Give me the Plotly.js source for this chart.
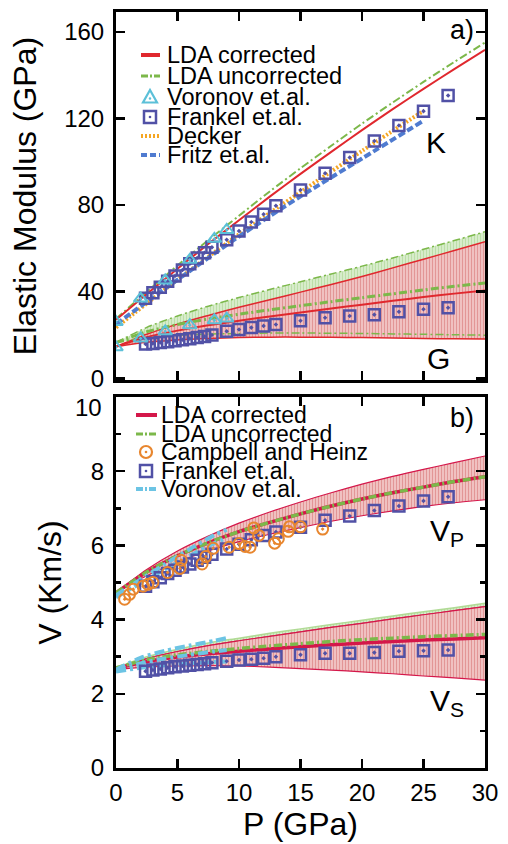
<!DOCTYPE html>
<html><head><meta charset="utf-8">
<script src="https://cdn.plot.ly/plotly-3.0.1.min.js"></script>
<style>html,body{margin:0;padding:0;background:#fff;}#chart{width:508px;height:844px;}</style>
</head><body><div id="chart"></div>
<script>
// ---------- DATA ----------
const P_LDA = [0, 2.5, 5, 7.5, 10, 12.5, 15, 17.5, 20, 22.5, 25, 27.5, 30];
// panel a) bulk modulus K
const K_corr = [27, 38.9, 50.6, 62.0, 73.0, 83.9, 94.4, 104.6, 114.6, 124.3, 133.7, 142.8, 151.7];
const K_unc  = [27.5, 39.9, 52.1, 63.8, 75.1, 86.3, 97.0, 107.4, 117.6, 127.4, 136.9, 146.1, 155.1];
// panel a) shear modulus G (mean, upper, lower)
const G_corr_mid = [14.6, 19.0, 22.0, 24.5, 26.6, 28.5, 30.4, 32.2, 34.0, 35.8, 37.5, 39.1, 40.6];
const G_corr_up  = [14.6, 20.3, 25.0, 29.0, 32.8, 36.3, 39.8, 43.3, 47.0, 51.0, 55.0, 59.0, 63.1];
const G_corr_lo  = [14.6, 16.6, 17.7, 18.4, 18.8, 19.0, 19.0, 18.9, 18.8, 18.6, 18.4, 18.2, 18.1];
const G_unc_mid  = [16.5, 21.5, 24.8, 27.4, 29.6, 31.6, 33.5, 35.4, 37.2, 39.0, 40.8, 42.5, 44.0];
const G_unc_up   = [16.5, 23.5, 28.8, 33.3, 37.3, 41.0, 44.6, 48.2, 51.8, 55.6, 59.6, 63.6, 67.7];
const G_unc_lo   = [16.5, 18.7, 19.8, 20.4, 20.7, 20.9, 20.9, 20.8, 20.7, 20.5, 20.3, 20.1, 19.9];
// panel b) velocities
const Vp_corr_mid = [4.72, 5.28, 5.72, 6.07, 6.37, 6.62, 6.85, 7.06, 7.25, 7.42, 7.57, 7.72, 7.85];
const Vp_corr_up  = [4.72, 5.35, 5.85, 6.25, 6.60, 6.90, 7.17, 7.42, 7.65, 7.86, 8.05, 8.23, 8.41];
const Vp_corr_lo  = [4.72, 5.18, 5.55, 5.85, 6.10, 6.30, 6.48, 6.65, 6.80, 6.93, 7.05, 7.15, 7.23];
const Vp_unc_mid  = [4.72, 5.28, 5.72, 6.07, 6.37, 6.62, 6.85, 7.06, 7.25, 7.42, 7.57, 7.72, 7.85];
const Vs_corr_mid = [2.68, 2.87, 2.99, 3.08, 3.15, 3.21, 3.27, 3.32, 3.37, 3.41, 3.45, 3.48, 3.51];
const Vs_corr_up  = [2.68, 2.95, 3.14, 3.30, 3.43, 3.55, 3.67, 3.79, 3.90, 4.02, 4.13, 4.24, 4.35];
const Vs_corr_lo  = [2.66, 2.72, 2.75, 2.76, 2.75, 2.72, 2.68, 2.64, 2.59, 2.54, 2.48, 2.43, 2.37];
const Vs_unc_mid  = [2.70, 2.92, 3.05, 3.14, 3.22, 3.29, 3.35, 3.41, 3.46, 3.50, 3.54, 3.57, 3.60];
const Vs_unc_up   = [2.70, 3.00, 3.20, 3.37, 3.50, 3.63, 3.75, 3.87, 3.98, 4.10, 4.21, 4.32, 4.44];
// Voronov et al.
const Vor_P  = [0, 2, 4, 6, 8, 9];
const Vor_K  = [26.0, 36.8, 45.2, 54.7, 64.4, 68.5];
const Vor_G  = [14.3, 18.4, 21.7, 24.5, 26.8, 27.6];
const Vor_Vp1 = [4.65, 5.08, 5.50, 5.90, 6.28, 6.42];
const Vor_Vp2 = [4.60, 4.98, 5.36, 5.72, 6.06, 6.20];
const Vor_Vs1 = [2.65, 2.97, 3.16, 3.30, 3.43, 3.50];
const Vor_Vs2 = [2.62, 2.82, 2.95, 3.05, 3.14, 3.18];
const Vor_Vs3 = [2.60, 2.70, 2.77, 2.82, 2.86, 2.87];
// Frankel et al.
const Fr_P  = [2.4, 3.0, 3.6, 4.2, 4.8, 5.4, 6.0, 6.6, 7.2, 7.8, 9, 10, 11, 12, 13, 15, 17, 19, 21, 23, 25, 27];
const Fr_K  = [37.0, 39.5, 42.0, 44.8, 47.3, 50.0, 52.9, 55.6, 58.0, 60.5, 64.0, 68.0, 72.2, 75.8, 79.7, 87.0, 94.7, 102.0, 109.6, 116.8, 123.4, 130.6];
const Fr_G  = [15.8, 16.1, 16.5, 16.9, 17.3, 17.8, 18.3, 18.8, 19.3, 20.0, 21.7, 22.5, 23.4, 24.2, 24.8, 26.6, 28.0, 28.8, 29.4, 30.7, 31.9, 32.6];
const Fr_Vp = [4.90, 5.02, 5.13, 5.24, 5.33, 5.42, 5.50, 5.60, 5.68, 5.76, 5.90, 6.03, 6.15, 6.27, 6.36, 6.49, 6.68, 6.79, 6.94, 7.06, 7.20, 7.31];
const Fr_Vs = [2.61, 2.64, 2.67, 2.70, 2.73, 2.75, 2.77, 2.79, 2.81, 2.84, 2.88, 2.91, 2.93, 2.96, 3.00, 3.05, 3.09, 3.09, 3.11, 3.15, 3.16, 3.18];
// Decker, Fritz et al.
const Dec_P = [0, 5, 10, 15, 20, 25];
const Dec_K = [23.5, 45.5, 66.5, 86.0, 105.0, 123.5];
const Fri_P = [0, 5, 10, 15, 20, 25];
const Fri_K = [25.0, 45.5, 65.5, 84.0, 101.5, 119.0];
// Campbell and Heinz
const Cam_P  = [0.7, 1.1, 1.4, 2.2, 2.6, 3.0, 4.2, 5.2, 5.3, 7.0, 7.3, 7.9, 9.2, 10.0, 10.5, 10.9, 11.2, 11.6, 12.9, 13.2, 14.0, 14.1, 15.0, 16.8];
const Cam_Vp = [4.55, 4.68, 4.82, 4.90, 4.95, 5.00, 5.27, 5.38, 5.60, 5.50, 5.70, 5.92, 5.95, 6.05, 5.97, 5.95, 6.47, 6.27, 6.06, 6.18, 6.38, 6.50, 6.50, 6.44];
// labels
const legendTop = ['LDA corrected', 'LDA uncorrected', 'Voronov et.al.', 'Frankel et.al.', 'Decker', 'Fritz et.al.'];
const legendBot = ['LDA corrected', 'LDA uncorrected', 'Campbell and Heinz', 'Frankel et.al.', 'Voronov et.al.'];
const yTicksBot = [0, 2, 4, 6, 8];

// ---------- STYLE ----------
const RED_T = '#e0282e', RED_B = '#d4174a', GREEN = '#7cb84a', CYAN_T = '#5cc0d8',
      BLUE_SQ = '#5151a6', ORANGE_D = '#f5a623', FRITZ = '#4f7bd0', CAMP = '#e8862e', CYAN_B = '#6cc4e4';
const PINK = 'rgb(236,182,182)', LGREEN = 'rgb(208,232,192)';
const PINK_PAT = {shape: '|', bgcolor: 'rgb(242,198,198)', fgcolor: 'rgb(226,150,150)', size: 3, solidity: 0.4};
const GREEN_PAT = {shape: '|', bgcolor: 'rgb(218,238,206)', fgcolor: 'rgb(188,222,168)', size: 3, solidity: 0.4};
const FONT = 'Liberation Sans, Arial, Helvetica, sans-serif';
const DASHDOT = '8px,3px,2px,3px', VORDASH = '10px,4px,3px,4px';

const W = 508, H = 844, L = 116, R = 23, T = 12, B = 76;
const pw = W - L - R, ph = H - T - B;
const px = x => (x - L) / pw, py = y => (H - B - y) / ph;

function ln(x, y, ax, color, width, dash, extra) {
  return Object.assign({x: x, y: y, xaxis: ax[0], yaxis: ax[1], mode: 'lines', showlegend: false,
    hoverinfo: 'skip', line: {color: color, width: width, dash: dash || 'solid', shape: 'spline', smoothing: 0.8}}, extra || {});
}
function mk(x, y, ax, symbol, color, size, lw) {
  return {x: x, y: y, xaxis: ax[0], yaxis: ax[1], mode: 'markers', showlegend: false, hoverinfo: 'skip',
    marker: {symbol: symbol, size: size, color: color, line: {color: color, width: lw}}};
}
const A = ['x', 'y'], Bx = ['x2', 'y2'];
const bandG = {fill: 'tonexty', fillcolor: LGREEN, fillpattern: GREEN_PAT};
const bandR = {fill: 'tonexty', fillcolor: PINK, fillpattern: PINK_PAT};

const traces = [
  // --- panel a: G bands
  ln(P_LDA, G_unc_lo, A, GREEN, 1.5, DASHDOT),
  ln(P_LDA, G_unc_up, A, GREEN, 1.5, DASHDOT, bandG),
  ln(P_LDA, G_corr_lo, A, RED_T, 1.5),
  ln(P_LDA, G_corr_up, A, RED_T, 1.5, 'solid', bandR),
  ln(P_LDA, G_unc_lo, A, GREEN, 1.5, DASHDOT),
  ln(P_LDA, G_unc_mid, A, GREEN, 3, DASHDOT),
  ln(P_LDA, G_corr_mid, A, RED_T, 2),
  // K lines
  ln(P_LDA, K_unc, A, GREEN, 2, DASHDOT),
  ln(P_LDA, K_corr, A, RED_T, 2),
  ln(Dec_P, Dec_K, A, ORANGE_D, 4, '2px,2px'),
  ln(Fri_P, Fri_K, A, FRITZ, 4, '7px,3px'),
  mk(Fr_P, Fr_K, A, 'square-open-dot', BLUE_SQ, 11, 2.5),
  mk(Fr_P, Fr_G, A, 'square-open-dot', BLUE_SQ, 11, 2.5),
  mk(Vor_P, Vor_K, A, 'triangle-up-open-dot', CYAN_T, 12, 2),
  mk(Vor_P, Vor_G, A, 'triangle-up-open-dot', CYAN_T, 12, 2),
  // --- panel b: Vp band
  ln(P_LDA, Vp_corr_lo, Bx, RED_B, 1.2),
  ln(P_LDA, Vp_corr_up, Bx, RED_B, 1.2, 'solid', bandR),
  // Vs bands
  ln(P_LDA, Vs_corr_up, Bx, RED_B, 1.2),
  ln(P_LDA, Vs_unc_up, Bx, 'rgba(170,215,140,0.9)', 1.5, 'solid', bandG),
  ln(P_LDA, Vs_corr_lo, Bx, RED_B, 1.2),
  ln(P_LDA, Vs_corr_up, Bx, RED_B, 1.2, 'solid', bandR),
  // middles
  ln(P_LDA, Vp_corr_mid, Bx, RED_B, 3.5),
  ln(P_LDA, Vp_unc_mid, Bx, GREEN, 3.5, DASHDOT),
  ln(P_LDA, Vs_corr_mid, Bx, RED_B, 3.5),
  ln(P_LDA, Vs_unc_mid, Bx, GREEN, 3.5, DASHDOT),
  // Voronov
  ln(Vor_P, Vor_Vp2, Bx, CYAN_B, 4, VORDASH),
  ln(Vor_P, Vor_Vp1, Bx, CYAN_B, 4, VORDASH),
  ln(Vor_P, Vor_Vs3, Bx, CYAN_B, 4, VORDASH),
  ln(Vor_P, Vor_Vs2, Bx, CYAN_B, 4, VORDASH),
  ln(Vor_P, Vor_Vs1, Bx, CYAN_B, 4, VORDASH),
  mk(Fr_P, Fr_Vp, Bx, 'square-open-dot', BLUE_SQ, 11, 2.5),
  mk(Fr_P, Fr_Vs, Bx, 'square-open-dot', BLUE_SQ, 11, 2.5),
  mk(Cam_P, Cam_Vp, Bx, 'circle-open-dot', CAMP, 11, 2)
];

// ---------- manual legends & labels ----------
const shapes = [], annotations = [];
function keyLine(x0, x1, y, color, width, dash) {
  shapes.push({type: 'line', xref: 'paper', yref: 'paper', x0: px(x0), x1: px(x1), y0: py(y), y1: py(y),
    line: {color: color, width: width, dash: dash || 'solid'}, layer: 'above'});
}
function keyDot(cx, cy, color) {
  shapes.push({type: 'circle', xref: 'paper', yref: 'paper', x0: px(cx - 1.3), x1: px(cx + 1.3), y0: py(cy + 1.3), y1: py(cy - 1.3),
    fillcolor: color, line: {width: 0}, layer: 'above'});
}
function keySquare(cx, cy, color) {
  shapes.push({type: 'rect', xref: 'paper', yref: 'paper', x0: px(cx - 6), x1: px(cx + 6), y0: py(cy + 6), y1: py(cy - 6),
    line: {color: color, width: 2.5}, layer: 'above'});
  keyDot(cx, cy, color);
}
function keyCircle(cx, cy, color) {
  shapes.push({type: 'circle', xref: 'paper', yref: 'paper', x0: px(cx - 6), x1: px(cx + 6), y0: py(cy + 6), y1: py(cy - 6),
    line: {color: color, width: 2.2}, layer: 'above'});
  keyDot(cx, cy, color);
}
function keyTri(cx, cy, color) {
  shapes.push({type: 'path', xref: 'paper', yref: 'paper',
    path: 'M' + px(cx - 7) + ',' + py(cy + 5.5) + ' L' + px(cx + 7) + ',' + py(cy + 5.5) + ' L' + px(cx) + ',' + py(cy - 7) + ' Z',
    line: {color: color, width: 2.2}, layer: 'above'});
  keyDot(cx, cy + 1.5, color);
}
function text(x, y, t, size, anchor) {
  annotations.push({xref: 'paper', yref: 'paper', x: px(x), y: py(y), text: t, showarrow: false,
    xanchor: anchor || 'left', yanchor: 'middle', font: {family: FONT, size: size, color: '#000'}});
}
// top legend
const topRows = [55, 76, 97, 117, 136, 155];
keyLine(141, 160, topRows[0], RED_T, 4);
keyLine(141, 160, topRows[1], GREEN, 3, '7px,2px,2px,2px');
keyTri(150, topRows[2], CYAN_T);
keySquare(150, topRows[3], BLUE_SQ);
keyLine(141, 160, topRows[4], ORANGE_D, 4, '2px,2px');
keyLine(141, 160, topRows[5], FRITZ, 4, '6px,3px');
legendTop.forEach((s, i) => text(165, topRows[i], s, 23.5));
// bottom legend
const botRows = [415, 434, 452, 471, 489];
keyLine(136, 157, botRows[0], RED_B, 4);
keyLine(136, 157, botRows[1], GREEN, 3, '7px,2px,2px,2px');
keyCircle(146, botRows[2], CAMP);
keySquare(146, botRows[3], BLUE_SQ);
keyLine(136, 157, botRows[4], CYAN_B, 4, '7px,2px,2px,2px');
legendBot.forEach((s, i) => text(159, botRows[i], s, 23));
// panel labels
text(462, 30, 'a)', 27, 'center');
text(436, 143, 'K', 30, 'center');
text(438, 359, 'G', 30, 'center');
text(462, 418, 'b)', 27, 'center');
text(447, 532, 'V<sub>P</sub>', 30, 'center');
text(447, 702, 'V<sub>S</sub>', 30, 'center');
// top tick label of panel b (drawn slightly below the frame as in the reference)
annotations.push({xref: 'paper', yref: 'paper', x: px(104), y: py(407), text: '10', showarrow: false,
  xanchor: 'right', yanchor: 'middle', font: {family: FONT, size: 24, color: '#000'}});

// ---------- AXES ----------
function axisBase(extra) {
  return Object.assign({showline: true, linewidth: 3, linecolor: '#000', mirror: 'ticks', ticks: 'inside',
    ticklen: 9, tickwidth: 2.5, tickcolor: '#000', showgrid: false, zeroline: false,
    tickfont: {family: FONT, size: 24, color: '#000'}}, extra);
}
const yTopLo = (H - B - 380) / ph;
const yBotHi = (H - B - 397) / ph;
const layout = {
  width: W, height: H, margin: {l: L, r: R, t: T, b: B}, paper_bgcolor: '#fff', plot_bgcolor: '#fff',
  showlegend: false, font: {family: FONT, color: '#000'},
  xaxis: axisBase({domain: [0, 1], anchor: 'y', range: [0, 30], tick0: 0, dtick: 5, showticklabels: false}),
  yaxis: axisBase({domain: [yTopLo, 1], anchor: 'x', range: [-0.8, 169.2], tick0: 0, dtick: 40, ticklabelstandoff: 4,
    title: {text: 'Elastic Modulus (GPa)', font: {family: FONT, size: 32, color: '#000'}, standoff: 18}}),
  xaxis2: axisBase({domain: [0, 1], anchor: 'y2', range: [0, 30], tick0: 0, dtick: 5, ticklabelstandoff: 1,
    title: {text: 'P (GPa)', font: {family: FONT, size: 32, color: '#000'}, standoff: 2}}),
  yaxis2: axisBase({domain: [0, yBotHi], anchor: 'x2', range: [0, 10], tickmode: 'array', tickvals: yTicksBot.concat([10]),
    ticktext: yTicksBot.map(String).concat(['']), ticklabelstandoff: 4,
    minor: {ticks: 'inside', dtick: 1, ticklen: 5, tickwidth: 2.5, tickcolor: '#000'},
    title: {text: 'V (Km/s)', font: {family: FONT, size: 32, color: '#000'}, standoff: 20}}),
  shapes: shapes, annotations: annotations
};
Plotly.newPlot('chart', traces, layout, {staticPlot: true, displayModeBar: false});
</script></body></html>
